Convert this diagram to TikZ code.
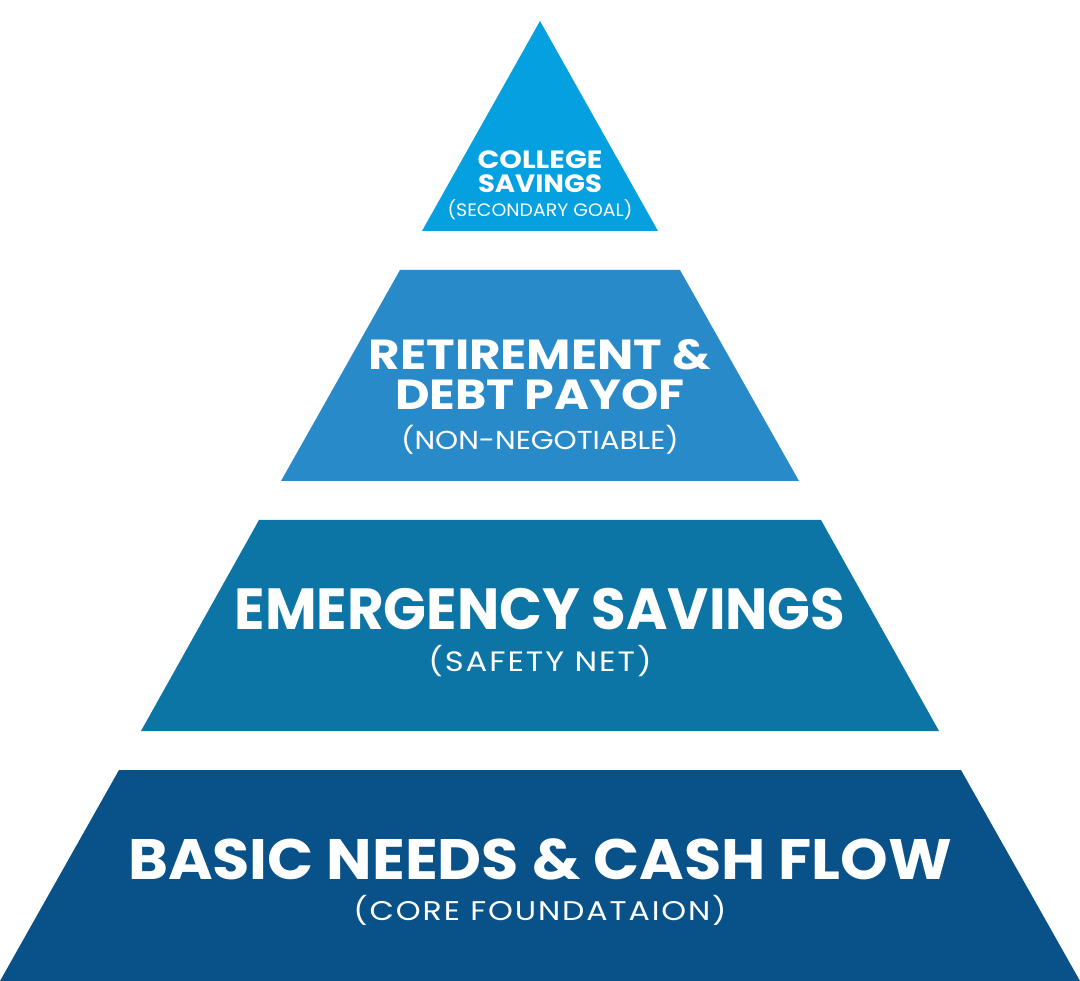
\documentclass[tikz,border=0pt]{standalone}
\usepackage{fontspec}
\setmainfont{Poppins}
\definecolor{tierA}{HTML}{04A0E0}
\definecolor{tierB}{HTML}{298AC9}
\definecolor{tierC}{HTML}{0D75A6}
\definecolor{tierD}{HTML}{095289}
\tikzset{
  ttl/.style={text=white, anchor=base, inner sep=0pt},
  sub/.style={text=white, anchor=base, inner sep=0pt},
}
\newcommand{\wide}[2]{\scalebox{#1}[1]{#2}}
\begin{document}
\begin{tikzpicture}[x=1pt,y=-1pt]
\useasboundingbox (0,0) rectangle (1080,981);
% tiers
\fill[tierA] (540,21) -- (658,231) -- (422,231) -- cycle;
\fill[tierB] (400,270) -- (680,270) -- (799,481) -- (281,481) -- cycle;
\fill[tierC] (259,520) -- (821,520) -- (939,731) -- (141,731) -- cycle;
\fill[tierD] (119,770) -- (961,770) -- (1080,981) -- (0,981) -- cycle;
% tier 1
\node[ttl, font=\bfseries\fontsize{25}{25}\selectfont] (t1a) at (540,169) {\wide{1.15}{COLLEGE}};
\node[ttl, font=\bfseries\fontsize{25}{25}\selectfont] (t1b) at (540,193) {\wide{1.1}{SAVINGS}};
\node[sub, font=\fontsize{18}{18}\selectfont] (t1c) at (540,217) {\wide{1.05}{(SECONDARY GOAL)}};
% tier 2
\node[ttl, font=\bfseries\fontsize{42}{42}\selectfont] (t2a) at (540,370) {\wide{1.15}{RETIREMENT \&}};
\node[ttl, font=\bfseries\fontsize{42}{42}\selectfont] (t2b) at (540,410) {\wide{1.13}{DEBT PAYOF}};
\node[sub, font=\fontsize{26}{26}\selectfont] (t2c) at (540,450) {\wide{1.13}{(NON-NEGOTIABLE)}};
% tier 3
\node[ttl, font=\bfseries\fontsize{58}{58}\selectfont] (t3a) at (540,630) {\wide{0.97}{EMERGENCY SAVINGS}};
\node[sub, font=\fontsize{28}{28}\selectfont\addfontfeature{LetterSpace=6}] (t3b) at (540,671) {\wide{1.15}{(SAFETY NET)}};
% tier 4
\node[ttl, font=\bfseries\fontsize{57}{57}\selectfont] (t4a) at (540,879) {\wide{1.063}{BASIC NEEDS \& CASH FLOW}};
\node[sub, font=\fontsize{27}{27}\selectfont\addfontfeature{LetterSpace=6}] (t4b) at (540,920) {\wide{1.17}{(CORE FOUNDATAION)}};
\end{tikzpicture}
\end{document}
